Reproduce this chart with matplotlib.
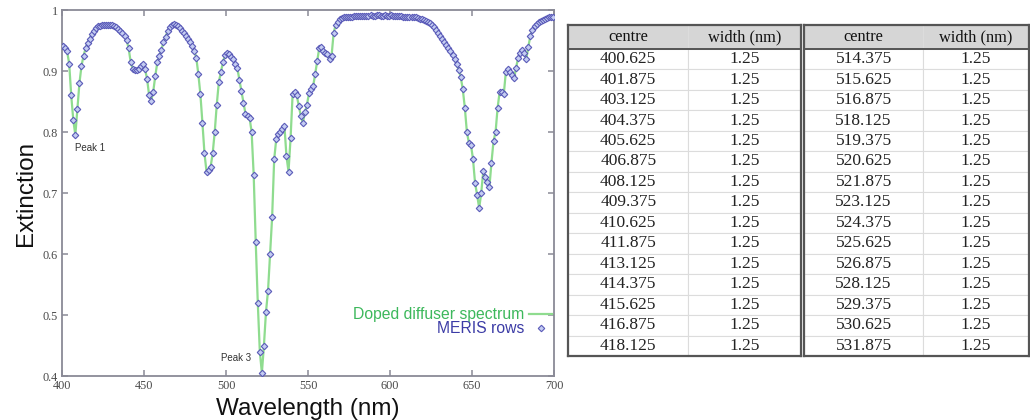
import matplotlib
matplotlib.use("Agg")
import matplotlib.pyplot as plt

# ---------------- data ----------------
band_centres = [
    400.625, 401.875, 403.125, 404.375, 405.625, 406.875, 408.125, 409.375,
    410.625, 411.875, 413.125, 414.375, 415.625, 416.875, 418.125, 419.375,
    420.625, 421.875, 423.125, 424.375, 425.625, 426.875, 428.125, 429.375,
    430.625, 431.875, 433.125, 434.375, 435.625, 436.875, 438.125, 439.375,
    440.625, 441.875, 443.125, 444.375, 445.625, 446.875, 448.125, 449.375,
    450.625, 451.875, 453.125, 454.375, 455.625, 456.875, 458.125, 459.375,
    460.625, 461.875, 463.125, 464.375, 465.625, 466.875, 468.125, 469.375,
    470.625, 471.875, 473.125, 474.375, 475.625, 476.875, 478.125, 479.375,
    480.625, 481.875, 483.125, 484.375, 485.625, 486.875, 488.125, 489.375,
    490.625, 491.875, 493.125, 494.375, 495.625, 496.875, 498.125, 499.375,
    500.625, 501.875, 503.125, 504.375, 505.625, 506.875, 508.125, 509.375,
    510.625, 511.875, 513.125, 514.375, 515.625, 516.875, 518.125, 519.375,
    520.625, 521.875, 523.125, 524.375, 525.625, 526.875, 528.125, 529.375,
    530.625, 531.875, 533.125, 534.375, 535.625, 536.875, 538.125, 539.375,
    540.625, 541.875, 543.125, 544.375, 545.625, 546.875, 548.125, 549.375,
    550.625, 551.875, 553.125, 554.375, 555.625, 556.875, 558.125, 559.375,
    560.625, 561.875, 563.125, 564.375, 565.625, 566.875, 568.125, 569.375,
    570.625, 571.875, 573.125, 574.375, 575.625, 576.875, 578.125, 579.375,
    580.625, 581.875, 583.125, 584.375, 585.625, 586.875, 588.125, 589.375,
    590.625, 591.875, 593.125, 594.375, 595.625, 596.875, 598.125, 599.375,
    600.625, 601.875, 603.125, 604.375, 605.625, 606.875, 608.125, 609.375,
    610.625, 611.875, 613.125, 614.375, 615.625, 616.875, 618.125, 619.375,
    620.625, 621.875, 623.125, 624.375, 625.625, 626.875, 628.125, 629.375,
    630.625, 631.875, 633.125, 634.375, 635.625, 636.875, 638.125, 639.375,
    640.625, 641.875, 643.125, 644.375, 645.625, 646.875, 648.125, 649.375,
    650.625, 651.875, 653.125, 654.375, 655.625, 656.875, 658.125, 659.375,
    660.625, 661.875, 663.125, 664.375, 665.625, 666.875, 668.125, 669.375,
    670.625, 671.875, 673.125, 674.375, 675.625, 676.875, 678.125, 679.375,
    680.625, 681.875, 683.125, 684.375, 685.625, 686.875, 688.125, 689.375,
    690.625, 691.875, 693.125, 694.375, 695.625, 696.875, 698.125, 699.375,
]

extinction = [
    0.941, 0.938, 0.932, 0.912, 0.860, 0.820, 0.795, 0.838,
    0.880, 0.908, 0.925, 0.937, 0.946, 0.953, 0.960, 0.966,
    0.970, 0.973, 0.974, 0.975, 0.975, 0.976, 0.976, 0.975,
    0.975, 0.974, 0.972, 0.969, 0.966, 0.962, 0.957, 0.951,
    0.937, 0.915, 0.903, 0.901, 0.902, 0.904, 0.908, 0.912,
    0.903, 0.887, 0.860, 0.851, 0.866, 0.892, 0.914, 0.925,
    0.935, 0.947, 0.956, 0.965, 0.972, 0.976, 0.977, 0.976,
    0.974, 0.970, 0.966, 0.962, 0.957, 0.952, 0.947, 0.941,
    0.933, 0.922, 0.895, 0.862, 0.815, 0.765, 0.735, 0.738,
    0.743, 0.765, 0.800, 0.845, 0.882, 0.898, 0.914, 0.926,
    0.930, 0.928, 0.923, 0.919, 0.912, 0.905, 0.886, 0.868,
    0.847, 0.830, 0.826, 0.823, 0.800, 0.730, 0.620, 0.520,
    0.440, 0.405, 0.450, 0.505, 0.540, 0.600, 0.660, 0.755,
    0.788, 0.796, 0.800, 0.805, 0.810, 0.760, 0.735, 0.790,
    0.862, 0.866, 0.860, 0.843, 0.826, 0.815, 0.832, 0.845,
    0.864, 0.871, 0.875, 0.895, 0.917, 0.938, 0.939, 0.933,
    0.930, 0.928, 0.920, 0.925, 0.962, 0.976, 0.981, 0.985,
    0.987, 0.988, 0.988, 0.989, 0.989, 0.989, 0.990, 0.990,
    0.990, 0.990, 0.990, 0.990, 0.990, 0.990, 0.991, 0.990,
    0.990, 0.991, 0.991, 0.990, 0.990, 0.991, 0.990, 0.990,
    0.991, 0.990, 0.990, 0.990, 0.990, 0.990, 0.989, 0.989,
    0.989, 0.989, 0.988, 0.988, 0.988, 0.987, 0.986, 0.985,
    0.984, 0.982, 0.980, 0.978, 0.975, 0.972, 0.968, 0.963,
    0.958, 0.952, 0.948, 0.943, 0.938, 0.933, 0.927, 0.920,
    0.911, 0.902, 0.890, 0.870, 0.840, 0.800, 0.782, 0.779,
    0.755, 0.716, 0.697, 0.675, 0.700, 0.736, 0.727, 0.718,
    0.710, 0.750, 0.785, 0.800, 0.840, 0.866, 0.865, 0.862,
    0.898, 0.903, 0.898, 0.893, 0.888, 0.905, 0.922, 0.930,
    0.934, 0.930, 0.920, 0.940, 0.958, 0.968, 0.974, 0.977,
    0.980, 0.982, 0.984, 0.986, 0.987, 0.988, 0.989, 0.989,
]

x_ticks = [400, 450, 500, 550, 600, 650, 700]
x_tick_labels = ["400", "450", "500", "550", "600", "650", "700"]
y_ticks = [0.4, 0.5, 0.6, 0.7, 0.8, 0.9, 1.0]
y_tick_labels = ["0.4", "0.5", "0.6", "0.7", "0.8", "0.9", "1"]

peak_labels = ["Peak 1", "Peak 3"]
peak_wavelengths = [408.125, 521.875]

table_header = ["centre", "width (nm)"]
table1_centre = ["400.625", "401.875", "403.125", "404.375", "405.625",
                 "406.875", "408.125", "409.375", "410.625", "411.875",
                 "413.125", "414.375", "415.625", "416.875", "418.125"]
table1_width = ["1.25"] * 15
table2_centre = ["514.375", "515.625", "516.875", "518.125", "519.375",
                 "520.625", "521.875", "523.125", "524.375", "525.625",
                 "526.875", "528.125", "529.375", "530.625", "531.875"]
table2_width = ["1.25"] * 15

# ---------------- figure ----------------
W, H = 1030, 420
fig = plt.figure(figsize=(W / 100, H / 100), dpi=100)
fig.patch.set_facecolor("white")

def frac(x0, y0, x1, y1):
    return [x0 / W, 1 - y1 / H, (x1 - x0) / W, (y1 - y0) / H]

sans = ["Liberation Sans", "DejaVu Sans"]
serif = ["Liberation Serif", "DejaVu Serif"]

ax = fig.add_axes(frac(62, 10, 554, 376))
spine_col = "#8a8a96"
for s in ax.spines.values():
    s.set_color(spine_col)
    s.set_linewidth(1.3)

line, = ax.plot(band_centres, extinction, color="#8fdc8f", lw=1.6,
                zorder=2, label="Doped diffuser spectrum")
pts, = ax.plot(band_centres, extinction, ls="none", marker="D", ms=3.3,
               mfc="#c4cdf2", mec="#5a5ab8", mew=0.8, zorder=3,
               label="MERIS rows")

ax.set_xlim(400, 700)
ax.set_ylim(0.4, 1.0)
ax.set_xticks(x_ticks)
ax.set_xticklabels(x_tick_labels)
ax.set_yticks(y_ticks)
ax.set_yticklabels(y_tick_labels)
ax.tick_params(direction="in", length=4, width=1.1, color=spine_col,
               top=True, right=True, labelsize=8.8, labelcolor="#4a4a4a",
               pad=3)
for lab in ax.get_xticklabels() + ax.get_yticklabels():
    lab.set_family(serif)

ax.set_xlabel("Wavelength (nm)", family=sans, fontsize=17.5, labelpad=4,
              color="#111111")
ax.set_ylabel("Extinction", family=sans, fontsize=17.5, labelpad=4,
              color="#111111")

# peak annotations
for lab, wl in zip(peak_labels, peak_wavelengths):
    i = band_centres.index(wl)
    v = extinction[i]
    if lab == "Peak 1":
        ax.annotate(lab, (wl, v), xytext=(0, -6), textcoords="offset points",
                    ha="left", va="top", fontsize=7, color="#333333",
                    family=sans)
    else:
        ax.annotate(lab, (wl, v), xytext=(-8, 7), textcoords="offset points",
                    ha="right", va="bottom", fontsize=7, color="#333333",
                    family=sans)

leg = ax.legend(handles=[line, pts], loc="center right",
                bbox_to_anchor=(1.0, 0.148), frameon=False,
                markerfirst=False, handlelength=1.5, handletextpad=0.3,
                labelspacing=-0.05, borderpad=0, borderaxespad=0.1,
                prop={"family": sans, "size": 11.3})
leg.get_texts()[0].set_color("#3db85c")
leg.get_texts()[1].set_color("#3c3ca6")

# ---------------- tables ----------------
def make_table(box, centres, widths, col_fracs):
    tax = fig.add_axes(frac(*box))
    tax.set_xlim(0, 1)
    tax.set_ylim(0, 1)
    tax.set_xticks([])
    tax.set_yticks([])
    for s in tax.spines.values():
        s.set_color("#555555")
        s.set_linewidth(1.6)
    cell_text = [[c, w] for c, w in zip(centres, widths)]
    tbl = tax.table(cellText=cell_text, colLabels=table_header,
                    colWidths=col_fracs, cellLoc="center",
                    bbox=[0, 0, 1, 1])
    tbl.auto_set_font_size(False)
    tbl.set_fontsize(12.5)
    n = len(centres)
    hh = 0.072
    rh = (1 - hh) / n
    for (r, c), cell in tbl.get_celld().items():
        cell.set_edgecolor("#dcdcdc")
        cell.set_linewidth(0.8)
        txt = cell.get_text()
        txt.set_family(serif)
        txt.set_color("#222222")
        if r == 0:
            cell.set_height(hh)
            cell.set_facecolor("#d6d6d6")
            cell.set_fontsize(11.8)
            txt.set_color("#111111")
        else:
            cell.set_height(rh)
            cell.set_facecolor("white")
            cell.set_fontsize(12.5)
    tax.axhline(1 - hh, color="#555555", lw=1.4, zorder=5)
    return tax

make_table((568, 25, 801, 356), table1_centre, table1_width, [0.517, 0.483])
make_table((804, 25, 1029, 356), table2_centre, table2_width, [0.53, 0.47])

fig.savefig("out.png", dpi=100, facecolor="white")
